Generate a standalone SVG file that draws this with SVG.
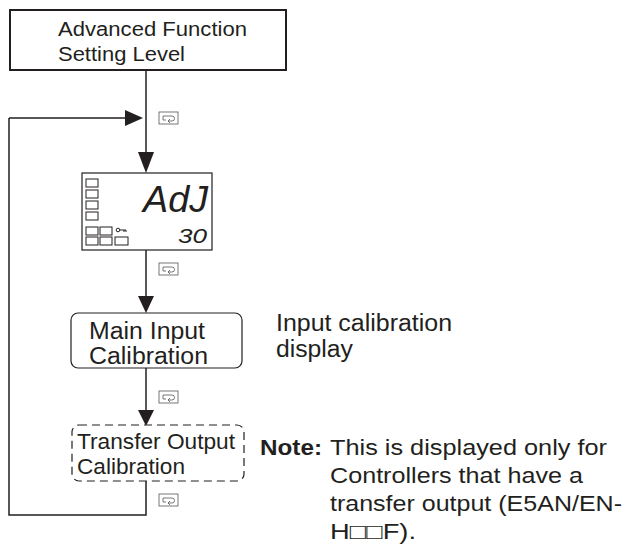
<svg xmlns="http://www.w3.org/2000/svg" width="623" height="545" viewBox="0 0 623 545">
<defs>
<style>
.t{font-family:"Liberation Sans",Arial,sans-serif;fill:#231f20}
.ln{stroke:#231f20;stroke-width:1.5;fill:none}
.ic{stroke:#555;stroke-width:0.8;fill:#fff}
.sq{stroke:#231f20;stroke-width:1;fill:none}
</style>
<g id="key">
<rect class="ic" x="0" y="0" width="19" height="12"/>
<path d="M4 4 H13 A2.5 2.5 0 0 1 13 9 H9 M11 7 L9 9 L11 11 M4 4 V8 H7" stroke="#555" stroke-width="0.8" fill="none"/>
</g>
</defs>
<rect width="623" height="545" fill="#fff"/>
<g id="connectors">
<path class="ln" d="M146 71 V156"/>
<path d="M138 152 L154 152 L146 173 Z" fill="#231f20"/>
<path class="ln" d="M9 118 H128"/>
<path d="M125 110 L143 118 L125 126 Z" fill="#231f20"/>
<path class="ln" d="M146 250 V298"/>
<path d="M138 296 L154 296 L146 313 Z" fill="#231f20"/>
<path class="ln" d="M146 368 V412"/>
<path d="M138 410 L154 410 L146 426 Z" fill="#231f20"/>
<path class="ln" d="M146 481 V515 H9 V118"/>
<use href="#key" x="159" y="112"/>
<use href="#key" x="159" y="263"/>
<use href="#key" x="159" y="391"/>
<use href="#key" x="159" y="494"/>
</g>
<g id="advanced">
<rect x="10" y="10" width="276" height="60" fill="#fff" stroke="#231f20" stroke-width="2"/>
<text class="t" x="58" y="36" font-size="20" textLength="189" lengthAdjust="spacingAndGlyphs">Advanced Function</text>
<text class="t" x="58" y="61" font-size="20" textLength="127" lengthAdjust="spacingAndGlyphs">Setting Level</text>
</g>
<g id="display">
<rect x="82" y="173" width="130" height="77" fill="#fff" stroke="#231f20" stroke-width="1.2"/>
<rect class="sq" x="86" y="179" width="12" height="8"/>
<rect class="sq" x="86" y="190" width="12" height="8"/>
<rect class="sq" x="86" y="201" width="12" height="8"/>
<rect class="sq" x="86" y="212" width="12" height="8"/>
<rect class="sq" x="86" y="227" width="12" height="8"/>
<rect class="sq" x="100" y="227" width="12" height="8"/>
<rect class="sq" x="86" y="237" width="12" height="8"/>
<rect class="sq" x="100" y="237" width="12" height="8"/>
<rect class="sq" x="115" y="237" width="13" height="8"/>
<circle cx="118" cy="230" r="1.8" fill="none" stroke="#231f20" stroke-width="1"/>
<path d="M120 230 H126 V232 M124 230 V232" stroke="#231f20" stroke-width="1" fill="none"/>
<text class="t" x="143" y="212" font-size="36" font-style="italic" textLength="65" lengthAdjust="spacingAndGlyphs" font-family="'DejaVu Sans Mono',monospace">AdJ</text>
<text class="t" x="178" y="243" font-size="20" font-style="italic" textLength="29" lengthAdjust="spacingAndGlyphs">30</text>
</g>
<g id="main">
<rect x="71" y="313" width="171" height="55" rx="7" fill="#fff" stroke="#231f20" stroke-width="1.2"/>
<text class="t" x="89" y="339" font-size="23" textLength="116" lengthAdjust="spacingAndGlyphs">Main Input</text>
<text class="t" x="89" y="364" font-size="23" textLength="119" lengthAdjust="spacingAndGlyphs">Calibration</text>
</g>
<g id="transfer">
<rect x="72" y="425" width="172" height="56" rx="7" fill="#fff" stroke="#231f20" stroke-width="1.2" stroke-dasharray="8,5"/>
<text class="t" x="77" y="449" font-size="22" textLength="158" lengthAdjust="spacingAndGlyphs">Transfer Output</text>
<text class="t" x="77" y="474" font-size="22" textLength="108" lengthAdjust="spacingAndGlyphs">Calibration</text>
</g>
<g id="labels">
<text class="t" x="276" y="331" font-size="23" textLength="176" lengthAdjust="spacingAndGlyphs">Input calibration</text>
<text class="t" x="276" y="357" font-size="23" textLength="77" lengthAdjust="spacingAndGlyphs">display</text>
<text class="t" x="260" y="455" font-size="22" font-weight="bold" textLength="62" lengthAdjust="spacingAndGlyphs">Note:</text>
<text class="t" x="330" y="455" font-size="22" textLength="277" lengthAdjust="spacingAndGlyphs">This is displayed only for</text>
<text class="t" x="330" y="483" font-size="22" textLength="253" lengthAdjust="spacingAndGlyphs">Controllers that have a</text>
<text class="t" x="330" y="511" font-size="22" textLength="292" lengthAdjust="spacingAndGlyphs">transfer output (E5AN/EN-</text>
<text class="t" x="330" y="539" font-size="22" textLength="86" lengthAdjust="spacingAndGlyphs">H□□F).</text>
</g>
</svg>
